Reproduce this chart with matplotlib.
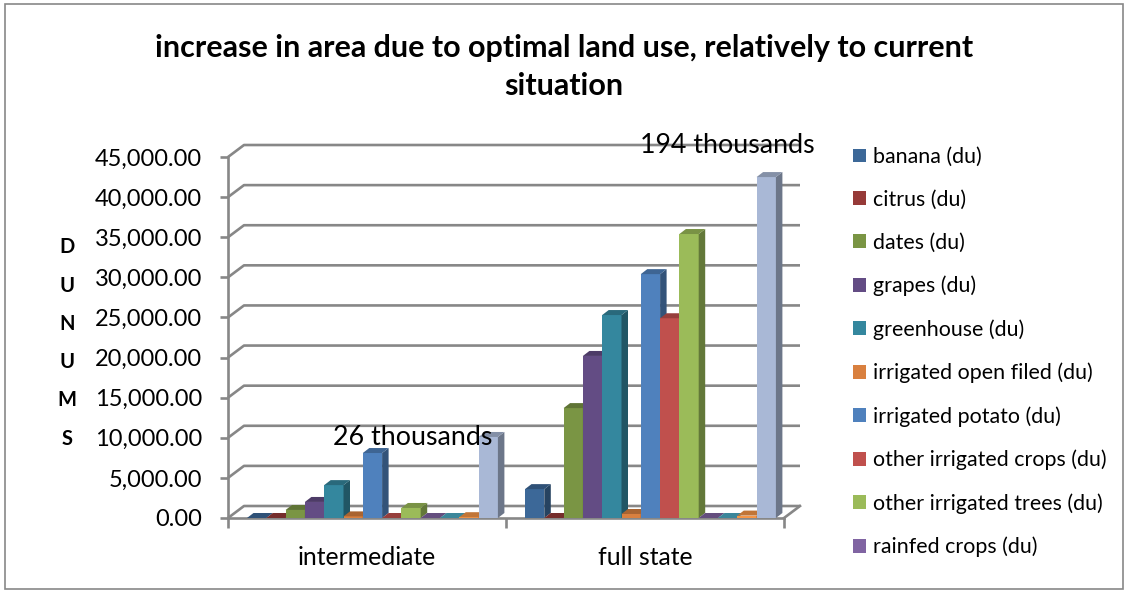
import matplotlib
matplotlib.use('Agg')
import matplotlib.pyplot as plt
from matplotlib.patches import Rectangle, Polygon, Patch
from matplotlib.colors import to_rgb
import numpy as np

plt.rcParams['font.family'] = ['Lato', 'DejaVu Sans']

# data (dunums)
categorias = ['intermediate', 'full state']
series = ['banana (du)', 'citrus (du)', 'dates (du)', 'grapes (du)', 'greenhouse (du)',
          'irrigated open filed (du)', 'irrigated potato (du)', 'other irrigated crops (du)',
          'other irrigated trees (du)', 'rainfed crops (du)', 'serie 11', 'serie 12', 'serie 13']
intermediate = [0, 0, 1000, 2000, 4100, 200, 8100, 0, 1250, 0, 0, 100, 10100]
full_state = [3600, 0, 13700, 20200, 25300, 500, 30400, 24900, 35400, 0, 0, 300, 42500]
totais = ['26 thousands', '194 thousands']
n_legenda = 10

cores = ['#3C6898', '#963A38', '#7A9544', '#634C84', '#34879E', '#D9803F',
         '#4F81BD', '#C0504D', '#9BBB59', '#8064A2', '#4BACC6', '#F79646', '#A9B8D6']

W, H = 1128, 592
fig = plt.figure(figsize=(W / 100, H / 100), dpi=100)

# pixel geometry of the plot area
x0_px, y0_px = 228, 518
px_cat = 278.0
px_val = 8.022 / 1000
xmax, ymax = 2.08, 47000
ax = fig.add_axes([x0_px / W, (H - y0_px) / H, xmax * px_cat / W, ymax * px_val / H])
ax.set_xlim(0, xmax)
ax.set_ylim(0, ymax)
ax.patch.set_visible(False)

cinza = '#878787'
lw = 1.9
# depth of back wall and of the bars, in data units
dx, dy = 16 / px_cat, 12 / px_val
bdx, bdy = 6.5 / px_cat, 5 / px_val

yticks = np.arange(0, 45001, 5000)
for v in yticks:
    ax.plot([0, dx, 2 + dx], [v, v + dy, v + dy], color=cinza, lw=lw, zorder=1,
            solid_capstyle='butt', clip_on=False)
ax.plot([2, 2 + dx], [0, dy], color=cinza, lw=lw, zorder=1, clip_on=False)

for s in ['top', 'right']:
    ax.spines[s].set_visible(False)
ax.spines['left'].set_bounds(0, 45000)
ax.spines['bottom'].set_bounds(0, 2)
for s in ['left', 'bottom']:
    ax.spines[s].set_color(cinza)
    ax.spines[s].set_linewidth(lw)
    ax.spines[s].set_zorder(2)

ax.set_yticks(yticks)
ax.set_yticklabels([f'{v:,.2f}' for v in yticks])
ax.tick_params(axis='y', length=5.8, width=lw, color=cinza, pad=13, labelsize=17)
ax.set_xticks([0, 1, 2])
ax.set_xticklabels(['', '', ''])
ax.set_xticks([0.5, 1.5], minor=True)
ax.set_xticklabels(categorias, minor=True)
ax.tick_params(axis='x', which='major', length=7.2, width=lw, color=cinza, direction='out')
ax.tick_params(axis='x', which='minor', length=0, pad=20, labelsize=17.8)


def escurecer(c, f):
    r, g, b = to_rgb(c)
    return (r * f, g * f, b * f)


larg = 19.3 / px_cat
inicio = 19 / px_cat
for i, valores in enumerate([intermediate, full_state]):
    for k, v in enumerate(valores):
        x = i + inicio + k * larg
        c = cores[k]
        if v > 0:
            ax.add_patch(Rectangle((x, 0), larg, v, facecolor=c, edgecolor='none', zorder=3))
            ax.add_patch(Polygon([(x + larg, 0), (x + larg + bdx, bdy), (x + larg + bdx, v + bdy),
                                  (x + larg, v)], closed=True, facecolor=escurecer(c, 0.64),
                                 edgecolor='none', zorder=3))
        ax.add_patch(Polygon([(x, v), (x + bdx, v + bdy), (x + larg + bdx, v + bdy), (x + larg, v)],
                             closed=True, facecolor=escurecer(c, 0.78), edgecolor='none', zorder=3))

ax.text(0.378, 9973, totais[0], fontsize=19.3, va='center', ha='left', zorder=5, clip_on=False)
ax.text(1.482, 46497, totais[1], fontsize=19.3, va='center', ha='left', zorder=5, clip_on=False)

fig.text(0.5, 1 - 67 / H, 'increase in area due to optimal land use, relatively to current\nsituation',
         ha='center', va='center', fontsize=22, fontweight='bold', linespacing=1.4)

fig.text(67 / W, 1 - 343 / H, 'D\nU\nN\nU\nM\nS', ha='center', va='center', fontsize=14.5,
         fontweight='bold', linespacing=2.14)

handles = [Patch(facecolor=cores[k], edgecolor='none') for k in range(n_legenda)]
fig.legend(handles, series[:n_legenda], loc='upper left', bbox_to_anchor=(853 / W, 1 - 147 / H),
           frameon=False, fontsize=15.4, handlelength=0.62, handleheight=0.62, handletextpad=0.3,
           labelspacing=1.07, borderpad=0, borderaxespad=0)

fig.add_artist(Rectangle((5 / W, 3 / H), 1118 / W, 585 / H, transform=fig.transFigure,
                         fill=False, edgecolor=cinza, lw=1.2))

fig.savefig('out.png', dpi=100)
